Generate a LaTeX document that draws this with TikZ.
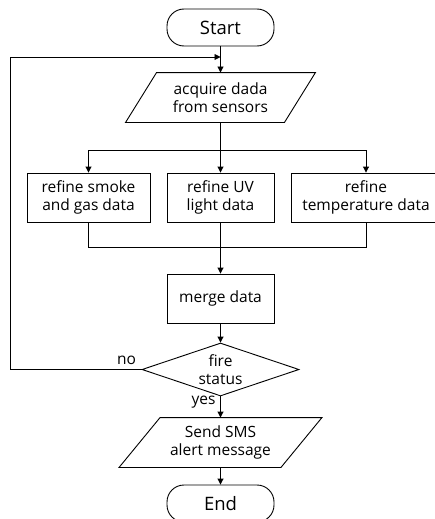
\documentclass[tikz,border=0pt]{standalone}
\usepackage{fontspec}
\setmainfont{Open Sans}
\usetikzlibrary{arrows.meta,shapes.geometric,calc}
\begin{document}
\begin{tikzpicture}[x=1pt,y=-1pt,
  line width=0.9pt,
  every node/.style={font=\fontsize{15.5}{17.5}\selectfont, align=center, inner sep=0pt},
  term/.style={draw, rounded corners=17pt, minimum width=107pt, minimum height=37pt, font=\fontsize{18.5}{20}\selectfont},
  proc/.style={draw, minimum height=49pt},
  iobox/.style={minimum height=49pt},
  dec/.style={draw, diamond, aspect=3, minimum width=157pt, minimum height=53pt},
  arr/.style={-{Triangle[length=6pt,width=6pt]}}
]
\clip (0,0) rectangle (435,519);

\node[term] (start) at (220.5,27.5) {Start};

\node[iobox, minimum width=127pt] (acq) at (220.5,97.5) {acquire dada\\from sensors};
\draw (acq.north west) -- ($(acq.north east)+(31,0)$) -- (acq.south east) -- ($(acq.south west)+(-31,0)$) -- cycle;

\node[proc, minimum width=123pt] (b1) at (88.5,197.5) {refine smoke\\and gas data};
\node[proc, minimum width=107pt] (b2) at (220.5,197.5) {refine UV\\light data};
\node[proc, minimum width=150pt] (b3) at (366,197.5) {refine\\temperature data};

\node[proc, minimum width=107pt] (merge) at (220.5,298.5) {merge data};

\node[dec] (fire) at (220.5,369.5) {fire\\status};

\node[iobox, minimum width=120pt] (sms) at (220.5,442.5) {Send SMS\\alert message};
\draw (sms.north west) -- ($(sms.north east)+(41,0)$) -- (sms.south east) -- ($(sms.south west)+(-41,0)$) -- cycle;

\node[term] (end) at (220.5,503.5) {End};

\node (no) at (126.5,360) {no};
\node (yes) at (203.5,402) {yes};

\coordinate (loopin) at (220.5,57);
\coordinate (loopcorner) at (10,57);
\coordinate (split) at (220.5,150);
\coordinate (join) at (220.5,247);

\draw[arr] (start.south) -- (acq.north);
\draw (acq.south) -- (split);
\draw[arr] (split) -| (b1.north);
\draw[arr] (split) -| (b3.north);
\draw[arr] (split) -- (b2.north);
\draw (b1.south) |- (join);
\draw (b3.south) |- (join);
\draw[arr] (b2.south) -- (merge.north);
\draw[arr] (merge.south) -- (fire.north);
\draw[arr] (fire.west) -| (loopcorner) -- (loopin);
\draw[arr] (fire.south) -- (sms.north);
\draw[arr] (sms.south) -- (end.north);
\end{tikzpicture}
\end{document}
